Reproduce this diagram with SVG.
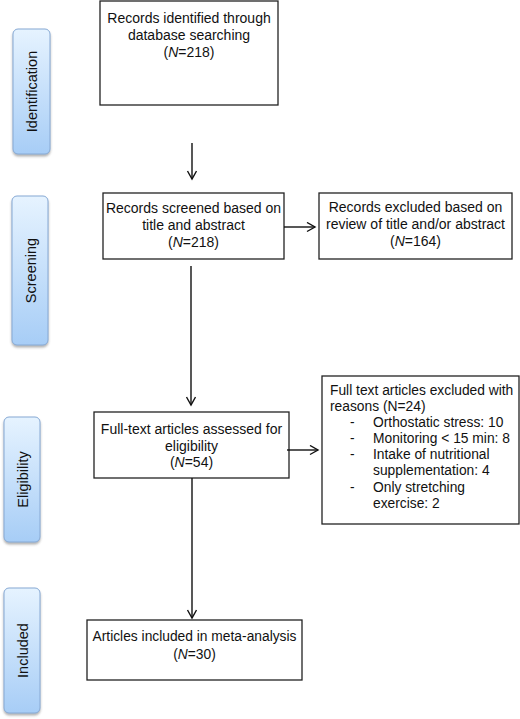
<svg xmlns="http://www.w3.org/2000/svg" width="520" height="719" viewBox="0 0 520 719">
<style>
.box{fill:#fff;stroke:#222;stroke-width:1.3}
.pill{fill:url(#g);stroke:#86a9d4;stroke-width:1}
.t{font-family:"Liberation Sans",Arial,sans-serif;font-size:14px;fill:#111}
.s{font-size:13.8px}
.p{font-size:14.5px}
.c{text-anchor:middle}
.ln{stroke:#111;stroke-width:1.4;fill:none}
</style>
<defs>
<linearGradient id="g" x1="0" y1="0" x2="0" y2="1">
<stop offset="0" stop-color="#e6f3ff"/>
<stop offset="1" stop-color="#a7cdf6"/>
</linearGradient>
<filter id="sh" x="-30%" y="-10%" width="160%" height="125%">
<feDropShadow dx="0" dy="2" stdDeviation="1.2" flood-color="#555" flood-opacity="0.45"/>
</filter>
<marker id="ah" markerWidth="12" markerHeight="12" refX="9" refY="5" orient="auto" markerUnits="userSpaceOnUse">
<path d="M1,0.5 L9,5 L1,9.5" fill="none" stroke="#111" stroke-width="1.4"/>
</marker>
</defs>
<g id="phase-identification">
<rect class="pill" filter="url(#sh)" x="13" y="29" width="37" height="125" rx="5"/>
<text class="t p c" transform="translate(36.5,91.5) rotate(-90)">Identification</text>
</g>
<g id="phase-screening">
<rect class="pill" filter="url(#sh)" x="12" y="196" width="36" height="149" rx="5"/>
<text class="t p c" transform="translate(35.5,270.5) rotate(-90)">Screening</text>
</g>
<g id="phase-eligibility">
<rect class="pill" filter="url(#sh)" x="4" y="417" width="36" height="125" rx="5"/>
<text class="t p c" transform="translate(27.5,479.5) rotate(-90)">Eligibility</text>
</g>
<g id="phase-included">
<rect class="pill" filter="url(#sh)" x="4" y="588" width="36" height="125" rx="5"/>
<text class="t p c" transform="translate(27.5,650.5) rotate(-90)">Included</text>
</g>
<g id="identified">
<rect class="box" x="100" y="1" width="178" height="104"/>
<text class="t c" x="189" y="23">Records identified through</text>
<text class="t c" x="189" y="40">database searching</text>
<text class="t c" x="189" y="57">(<tspan font-style="italic">N</tspan>=218)</text>
</g>
<g id="screened">
<rect class="box" x="103" y="193" width="181" height="66"/>
<text class="t c" x="193.5" y="213">Records screened based on</text>
<text class="t c" x="193.5" y="230">title and abstract</text>
<text class="t c" x="193.5" y="247">(<tspan font-style="italic">N</tspan>=218)</text>
</g>
<g id="excluded-screening">
<rect class="box" x="319" y="193" width="193" height="66"/>
<text class="t c" x="415.5" y="212">Records excluded based on</text>
<text class="t c" x="415.5" y="229">review of title and/or abstract</text>
<text class="t c" x="415.5" y="246">(<tspan font-style="italic">N</tspan>=164)</text>
</g>
<g id="assessed">
<rect class="box" x="94" y="412" width="195" height="66"/>
<text class="t c" x="191.5" y="434">Full-text articles assessed for</text>
<text class="t c" x="191.5" y="451">eligibility</text>
<text class="t c" x="191.5" y="467">(<tspan font-style="italic">N</tspan>=54)</text>
</g>
<g id="excluded-fulltext">
<rect class="box" x="322" y="376" width="197" height="148"/>
<text class="t s" x="330" y="395">Full text articles excluded with</text>
<text class="t s" x="330" y="411">reasons (N=24)</text>
<text class="t s" x="350" y="427">-</text>
<text class="t s" x="373" y="427">Orthostatic stress: 10</text>
<text class="t s" x="350" y="443">-</text>
<text class="t s" x="373" y="443">Monitoring &lt; 15 min: 8</text>
<text class="t s" x="350" y="459">-</text>
<text class="t s" x="373" y="459">Intake of nutritional</text>
<text class="t s" x="373" y="475">supplementation: 4</text>
<text class="t s" x="350" y="492">-</text>
<text class="t s" x="373" y="492">Only stretching</text>
<text class="t s" x="373" y="508">exercise: 2</text>
</g>
<g id="included">
<rect class="box" x="87" y="620" width="215" height="60"/>
<text class="t s c" x="194.5" y="641">Articles included in meta-analysis</text>
<text class="t s c" x="194.5" y="659">(<tspan font-style="italic">N</tspan>=30)</text>
</g>
<g id="connectors">
<line class="ln" x1="192" y1="143" x2="192" y2="179" marker-end="url(#ah)"/>
<line class="ln" x1="284" y1="227" x2="315" y2="227" marker-end="url(#ah)"/>
<line class="ln" x1="191" y1="266" x2="191" y2="405" marker-end="url(#ah)"/>
<line class="ln" x1="287" y1="450" x2="318" y2="450" marker-end="url(#ah)"/>
<line class="ln" x1="192" y1="478" x2="192" y2="618" marker-end="url(#ah)"/>
</g>
</svg>
